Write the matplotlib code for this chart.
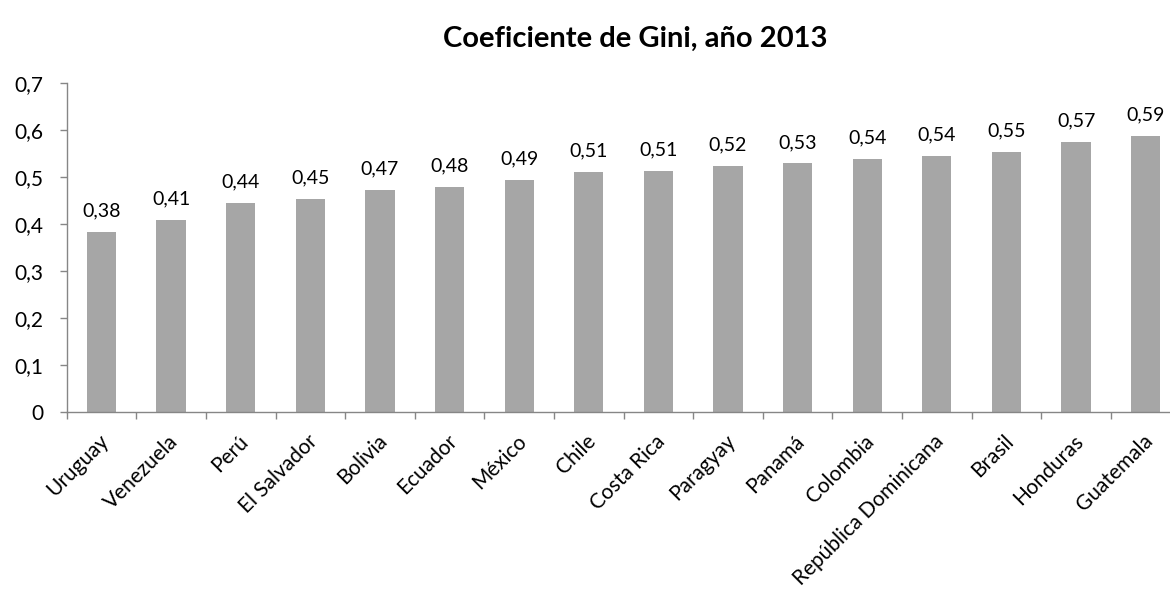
import numpy as np
import matplotlib
matplotlib.use("Agg")
from matplotlib import pyplot as plt
from matplotlib.transforms import ScaledTranslation

plt.rcParams["font.family"] = ["Lato", "DejaVu Sans"]

paises = ["Uruguay", "Venezuela", "Perú", "El Salvador", "Bolivia", "Ecuador",
          "México", "Chile", "Costa Rica", "Paragyay", "Panamá", "Colombia",
          "República Dominicana", "Brasil", "Honduras", "Guatemala"]
gini = [0.383, 0.408, 0.444, 0.454, 0.473, 0.478, 0.494, 0.510,
        0.513, 0.523, 0.529, 0.538, 0.544, 0.554, 0.574, 0.587]
y_ticks = [0, 0.1, 0.2, 0.3, 0.4, 0.5, 0.6, 0.7]

def coma(v, dec):
    if v == 0:
        return "0"
    return f"{v:.{dec}f}".replace(".", ",")

fig = plt.figure(figsize=(11.7, 5.94), dpi=100)
ax = fig.add_axes([0.057, 0.307, 0.952, 0.553])

x = np.arange(len(paises))
bars = ax.bar(x, gini, width=0.42, color="#a6a6a6")

for b, v in zip(bars, gini):
    ax.annotate(coma(v, 2), (b.get_x() + b.get_width() / 2, v),
                xytext=(0, 9), textcoords="offset points",
                ha="center", va="bottom", fontsize=14)

ax.set_xlim(-0.5, len(paises) - 0.5)
ax.set_ylim(0, 0.7)
ax.set_yticks(y_ticks)
ax.set_yticklabels([coma(t, 1) for t in y_ticks], fontsize=15)

# labels at the category centres, tick marks between categories
ax.set_xticks(x)
ax.set_xticklabels(paises, rotation=45, ha="right", va="center",
                   rotation_mode="anchor", fontsize=15)
ax.set_xticks(np.arange(-0.5, len(paises), 1), minor=True)
ax.tick_params(axis="x", which="major", length=0, pad=19)
ax.tick_params(axis="x", which="minor", length=5, color="#868686", width=1)
ax.tick_params(axis="y", length=5, color="#868686", width=1, pad=12)
for lab in ax.get_xticklabels():
    lab.set_transform(lab.get_transform() + ScaledTranslation(0.04, 0, fig.dpi_scale_trans))

for side in ["top", "right"]:
    ax.spines[side].set_visible(False)
for side in ["left", "bottom"]:
    ax.spines[side].set_color("#868686")
    ax.spines[side].set_linewidth(1)

fig.text(0.543, 0.935, "Coeficiente de Gini, año 2013", ha="center", va="center",
         fontsize=21, fontweight="bold")

fig.savefig("out.png", dpi=100)
